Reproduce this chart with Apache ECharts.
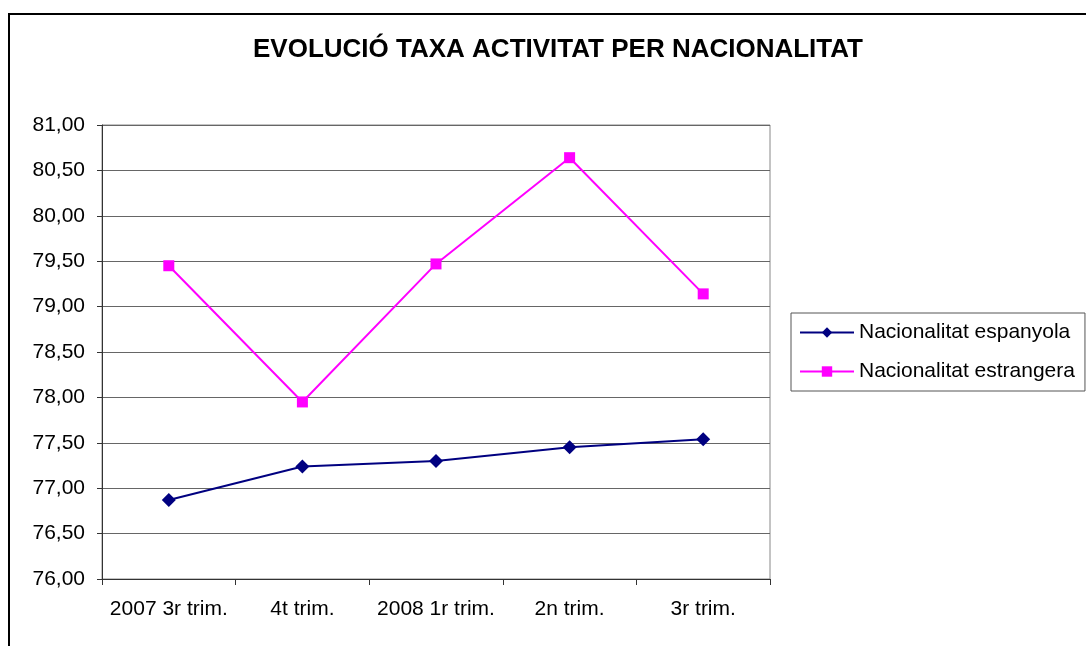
<!DOCTYPE html>
<html>
<head>
<meta charset="utf-8">
<script src="https://cdn.jsdelivr.net/npm/echarts@6/dist/echarts.min.js"></script>
<style>
  html, body { margin: 0; padding: 0; background: #fff; }
  #chart { width: 1086px; height: 646px; }
</style>
</head>
<body>
<div id="chart"></div>
<script>
// dades del gràfic
var categories = ["2007 3r trim.", "4t trim.", "2008 1r trim.", "2n trim.", "3r trim."];
var espanyola = [76.87, 77.24, 77.30, 77.45, 77.54];
var estrangera = [79.45, 77.95, 79.47, 80.64, 79.14];
var seriesNames = ["Nacionalitat espanyola", "Nacionalitat estrangera"];
var chartTitle = "EVOLUCIÓ TAXA ACTIVITAT PER NACIONALITAT";

var chart = echarts.init(document.getElementById("chart"), null, { renderer: "canvas" });
var font = "Liberation Sans, Arial, sans-serif";

chart.setOption({
  animation: false,
  textStyle: { fontFamily: font },
  // marc exterior
  graphic: [{
    type: "rect",
    shape: { x: 9, y: 14, width: 1200, height: 800 },
    style: { fill: "none", stroke: "#000", lineWidth: 2 },
    silent: true
  }],
  title: {
    text: chartTitle,
    left: 553,
    textAlign: "center",
    top: 32,
    textStyle: { fontFamily: font, fontSize: 26, fontWeight: "bold", color: "#000" }
  },
  legend: {
    orient: "vertical",
    left: 791,
    top: 313,
    width: 320,
    data: seriesNames,
    itemWidth: 54,
    itemHeight: 13,
    itemGap: 18,
    padding: [9, 10, 9, 8],
    borderColor: "#555",
    borderWidth: 1,
    textStyle: { fontFamily: font, fontSize: 21, color: "#000" }
  },
  grid: {
    left: 102,
    top: 125,
    width: 668,
    height: 454,
    show: true,
    borderColor: "#888",
    borderWidth: 1,
    backgroundColor: "transparent"
  },
  xAxis: {
    type: "category",
    data: categories,
    boundaryGap: true,
    axisLine: { lineStyle: { color: "#333", width: 1 } },
    axisTick: { show: true, interval: 0, length: 6, lineStyle: { color: "#333" } },
    axisLabel: { interval: 0, hideOverlap: false, fontFamily: font, fontSize: 21, color: "#000", margin: 20 },
    splitLine: { show: false }
  },
  yAxis: {
    type: "value",
    min: 76,
    max: 81,
    interval: 0.5,
    axisLine: { show: true, lineStyle: { color: "#333", width: 1 } },
    axisTick: { show: true, length: 5, lineStyle: { color: "#333" } },
    axisLabel: {
      fontFamily: font, fontSize: 21, color: "#000", margin: 17,
      formatter: function (v) { return v.toFixed(2).replace(".", ","); }
    },
    splitLine: { show: true, lineStyle: { color: "#666", width: 1 } }
  },
  series: [
    {
      name: seriesNames[0],
      type: "line",
      data: espanyola,
      symbol: "diamond",
      symbolSize: 14,
      color: "#000080",
      lineStyle: { color: "#000080", width: 2 },
      itemStyle: { color: "#000080" }
    },
    {
      name: seriesNames[1],
      type: "line",
      data: estrangera,
      symbol: "rect",
      symbolSize: 11,
      color: "#ff00ff",
      lineStyle: { color: "#ff00ff", width: 2 },
      itemStyle: { color: "#ff00ff" }
    }
  ]
});
</script>
</body>
</html>
